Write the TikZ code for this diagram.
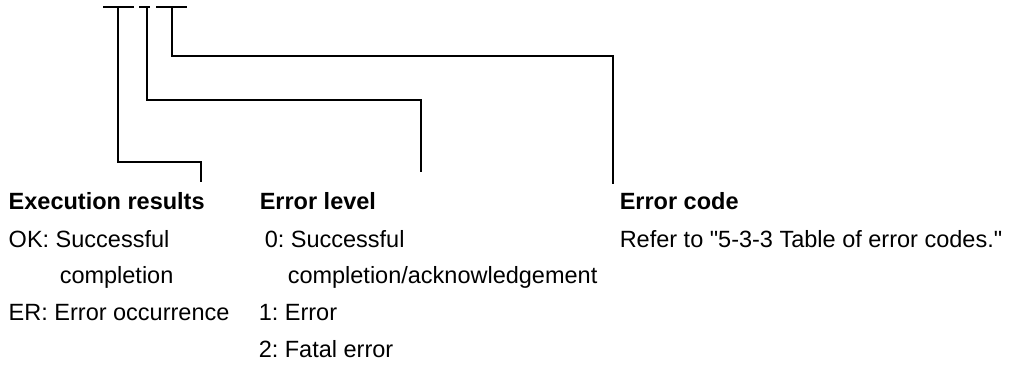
\documentclass[tikz,border=0pt]{standalone}
\usepackage{fontspec}
\setmainfont{Liberation Sans}
\frenchspacing
\newcommand\plainqt{\XeTeXglyph\XeTeXcharglyph"22\relax}

\begin{document}
\begin{tikzpicture}[x = 1pt, y = -1pt, line width = 1.5pt,
	field text/.style = {inner sep = 0pt, anchor = base west, font = \fontsize{23.5}{27}\selectfont},
	field head/.style = {field text, font = \fontsize{23.5}{27}\selectfont\bfseries}]

	\useasboundingbox (0, 0) rectangle (1009, 365);

	% Field bars
	
	\foreach \a/\b in {103/134, 139/150, 156/187}
		\draw (\a, 7) -- (\b, 7);
	
	\coordinate (res top) at (118, 7);
	\coordinate (lvl top) at (147, 7);
	\coordinate (code top) at (172, 7);
	
	\coordinate (res end) at (201, 182);
	\coordinate (lvl end) at (421, 172);
	\coordinate (code end) at (613, 184);

	% Leaders
	
	\draw (res top) -- ++(0, 155) -| (res end);
	\draw (lvl top) -- ++(0, 93) -| (lvl end);
	\draw (code top) -- ++(0, 49) -| (code end);

	% Execution results
	
	\node [field head] (res head) at (8, 209) {Execution results};
	\node [field text] (res ok) at (8, 247) {OK: Successful};
	\node [field text] (res ok more) at (59, 283) {completion};
	\node [field text] (res er) at (8, 320) {ER: Error occurrence};
	
	% Error level
	
	\node [field head] (lvl head) at (259, 209) {Error level};
	\node [field text] (lvl zero) at (264, 247) {0: Successful};
	\node [field text] (lvl zero more) at (287, 283) {completion/acknowledgement};
	\node [field text] (lvl one) at (258, 320) {1: Error};
	\node [field text] (lvl two) at (258, 357) {2: Fatal error};
	
	% Error code
	
	\node [field head] (code head) at (619, 209) {Error code};
	\node [field text] (code ref) at (619, 247) {Refer to \plainqt5-3-3 Table of error codes.\plainqt};

\end{tikzpicture}
\end{document}
